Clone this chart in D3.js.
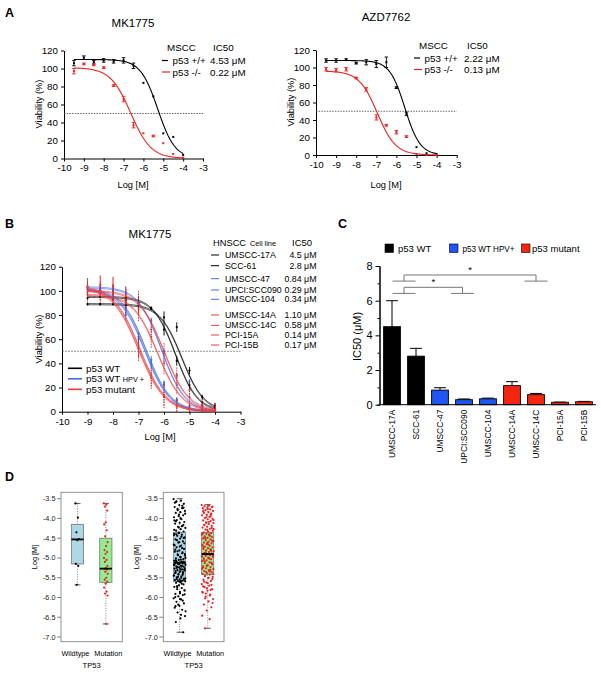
<!DOCTYPE html>
<html><head><meta charset="utf-8">
<script src="https://cdn.jsdelivr.net/npm/d3@7"></script>
<style>body{margin:0;background:#fff}</style>
</head><body><svg id="fig" width="601" height="674"></svg>
<script>
// ---------------- DATA ----------------
// Panel A
const logConcA = [-9.5,-9,-8.5,-8,-7.5,-7,-6.5,-6,-5.5,-5,-4.5,-4];
const mkWT    = [106,112,107,109,108,109,103,84,69,28,24,4];
const mkWTerr = [3,2,2,2,2,3,3,0,0,0,0,0];
const mkKO    = [97,105,104,101,81,66,37,28,25,17,5,1];
const mkKOerr = [3,1,1,1,1,3,3,0,1,0,0,0];
const azWT    = [108,108,109,105,106,104,106,77,47,9,2,1];
const azWTerr = [2,2,1,1,3,4,6,1,2,0,0,0];
const azKO    = [98,97,98,88,75,43,34,26,21,1,0,0];
const azKOerr = [2,2,2,1,2,3,1,2,1,0,0,0];
// fit params [top, bottom, logIC50, hill]
const mkWTfit = [110,0,-5.28,1.0];
const mkKOfit = [101,0,-6.64,0.85];
const azWTfit = [108,0,-5.58,1.15];
const azKOfit = [96,0,-6.95,0.95];
const mkIC50 = ['4.53 μM','0.22 μM'];
const azIC50 = ['2.22 μM','0.13 μM'];
const mscc = ['p53 +/+','p53 -/-'];
const xTicksDose = [-10,-9,-8,-7,-6,-5,-4,-3];
const yTicksVia = [0,20,40,60,80,100,120];

// Panel B
const logConcB = [-9,-8.5,-8,-7.5,-7,-6.5,-6,-5.5,-5,-4.5,-4];
const cellLines = ['UMSCC-17A','SCC-61','UMSCC-47','UPCI:SCC090','UMSCC-104','UMSCC-14A','UMSCC-14C','PCI-15A','PCI-15B'];
const lineGroup = ['wt','wt','hpv','hpv','hpv','mut','mut','mut','mut'];
const ic50Label = ['4.5 μM','2.8 μM','0.84 μM','0.29 μM','0.34 μM','1.10 μM','0.58 μM','0.14 μM','0.17 μM'];
const topB  = [89,95,103,102,101,100,97,104,103];
const logB  = [-5.3,-5.55,-6.1,-6.7,-6.75,-6.0,-6.25,-6.95,-7.0];
const hillB = [1,1,0.95,0.9,0.9,0.9,0.9,0.85,0.85];
const meansB = [
  [89,89,89,88,88,86,78,70,34,12,5],
  [94,95,93,92,90,85,68,42,22,5,2],
  [103,102,101,98,90,75,50,30,25,8,2],
  [102,101,100,85,62,43,24,10,5,2,1],
  [101,100,99,80,60,40,22,9,4,2,1],
  [99,100,98,95,90,68,48,30,18,6,3],
  [97,98,97,93,85,62,40,22,12,4,2],
  [104,105,104,93,52,28,12,4,2,1,1],
  [103,104,103,90,55,30,14,5,3,1,1]
];
const errWT  = [1,1,1,2,6,1,5,4,3,2,2];
const errHPV = [2,2,2,5,4,3,2,2,2,1,1];
const errMUT = [7,8,8,9,10,9,9,7,6,5,5];

// Panel C
const ic50Mean = [4.5,2.8,0.84,0.29,0.34,1.10,0.58,0.14,0.17];
const ic50Err  = [1.5,0.45,0.14,0.04,0.04,0.23,0.07,0.01,0.02];
const legendC = ['p53 WT','p53 WT HPV+','p53 mutant'];
const yTicksC = [0,2,4,6,8];

// Panel D
const dTicks = [-3.5,-4.0,-4.5,-5.0,-5.5,-6.0,-6.5,-7.0];
const groupsD = ['Wildtype','Mutation'];
// box stats [lowWhisker, q1, median, q3, highWhisker]
const boxL = [[-5.68,-5.15,-4.53,-4.15,-3.62],[-6.67,-5.62,-5.27,-4.5,-3.62]];
const boxR = [[-6.88,-5.6,-5.12,-4.35,-3.5],[-6.78,-5.42,-4.9,-4.35,-3.65]];
const ptsLwt = [-3.62,-3.98,-4.35,-4.52,-4.55,-5.15,-5.2,-5.68];
const ptsLmut = [-3.62,-3.65,-3.7,-3.8,-4.1,-4.15,-4.3,-4.45,-4.6,-4.7,-4.8,-4.85,-4.9,-5.0,-5.05,-5.1,-5.2,-5.25,-5.28,-5.3,-5.35,-5.4,-5.5,-5.55,-5.6,-5.65,-5.75,-5.85,-5.9,-5.95,-6.67];
const ptsRwt = [-3.51,-3.55,-3.57,-3.63,-3.66,-3.71,-3.74,-3.76,-3.81,-3.84,-3.86,-3.92,-3.94,-3.97,-4.02,-4.04,-4.09,-4.11,-4.13,-4.19,-4.21,-4.24,-4.27,-4.31,-4.33,
 -4.37,-4.39,-4.41,-4.44,-4.48,-4.51,-4.53,-4.58,-4.61,-4.66,-4.69,-4.73,-4.77,-4.81,-4.84,-4.88,-4.91,-4.94,-4.98,-5.01,-5.03,-5.05,-5.07,-5.09,-5.11,-5.12,-5.12,-5.13,
 -5.14,-5.15,-5.17,-5.19,-5.21,-5.22,-5.24,-5.27,-5.29,-5.31,-5.32,-5.34,-5.37,-5.39,-5.42,-5.44,-5.47,-5.49,-5.52,-5.54,-5.56,-5.57,-5.58,-5.59,-5.61,
 -5.63,-5.67,-5.69,-5.73,-5.76,-5.79,-5.83,-5.86,-5.91,-5.94,-5.97,-6.02,-6.05,-6.11,-6.15,-6.21,-6.26,-6.31,-6.38,-6.47,-6.53,-6.62,-6.88,
 -4.36,-4.42,-4.46,-4.55,-4.63,-4.71,-4.79,-4.86,-4.93,-5.0,-5.04,-5.08,-5.1,-5.16,-5.18,-5.2,-5.23,-5.26,-5.28,-5.33,-5.36,-5.41,-5.45,-5.5,-5.53,-5.55,-5.6,
 -3.6,-3.68,-3.79,-3.88,-3.99,-4.07,-4.16,-4.23,-4.29,-5.65,-5.71,-5.81,-5.89,-5.99,-6.08,-6.18,-6.35,-6.44,
 -4.4,-4.5,-4.6,-4.68,-4.75,-4.83,-4.9,-4.97,-5.06,-5.11,-5.14,-5.17,-5.22,-5.25,-5.3,-5.35,-5.38,-5.43,-5.48,-5.52,-5.58,-3.58,-3.73,-3.9,-4.05,-4.2,-5.74,-5.92,-6.04,-6.22];
const ptsRmut = [-3.66,-3.67,-3.69,-3.71,-3.73,-3.74,-3.77,-3.79,-3.81,-3.84,-3.86,-3.88,-3.91,-3.92,-3.96,-3.99,-4.01,-4.02,-4.05,-4.07,-4.1,-4.12,-4.14,-4.17,-4.19,-4.21,-4.23,-4.26,-4.28,-4.31,-4.33,
 -4.36,-4.37,-4.39,-4.41,-4.43,-4.45,-4.47,-4.49,-4.51,-4.53,-4.55,-4.57,-4.59,-4.61,-4.63,-4.65,-4.67,-4.69,-4.71,-4.73,-4.75,-4.77,-4.79,-4.81,-4.83,-4.85,-4.87,-4.89,-4.9,
 -4.91,-4.93,-4.95,-4.97,-4.99,-5.01,-5.03,-5.06,-5.08,-5.11,-5.13,-5.16,-5.18,-5.21,-5.23,-5.26,-5.28,-5.31,-5.33,-5.36,-5.38,-5.4,-5.42,
 -5.45,-5.48,-5.51,-5.55,-5.58,-5.62,-5.66,-5.7,-5.74,-5.79,-5.83,-5.88,-5.93,-5.98,-6.04,-6.1,-6.18,-6.25,-6.33,-6.46,-6.55,-6.78,
 -3.7,-3.76,-3.83,-3.9,-3.97,-4.04,-4.09,-4.16,-4.24,-4.29,-4.38,-4.44,-4.5,-4.58,-4.66,-4.74,-4.82,-4.92,-4.96,-5.02,-5.09,-5.14,-5.19,-5.24,-5.3,-5.35,-5.41,-5.5,-5.6,-5.68,-5.77,-5.86,-5.95,-6.02,-6.14,
 -3.68,-3.8,-3.94,-4.11,-4.27,-4.4,-4.48,-4.56,-4.62,-4.7,-4.78,-4.86,-4.94,-5.0,-5.05,-5.12,-5.2,-5.27,-5.34,-5.46,-5.53,-5.64,-5.72,-5.81,-5.9];

// ---------------- DRAWING ----------------
const F = '"Liberation Sans", Arial, Helvetica, sans-serif';
const svg = d3.select('#fig').attr('font-family', F);
const RED = '#f41f1f', BLACK = '#000';
const COL = {wt:'#000', hpv:'#3f6ee8', mut:'#ef3b3b'};
const BAR = {wt:'#000', hpv:'#1f55f2', mut:'#f5260f'};
const fourPL = (x, p) => p[1] + (p[0]-p[1])/(1+Math.pow(10,(x-p[2])*p[3]));

function txt(g, x, y, s, size, opt={}) {
  const t = g.append('text').attr('x',x).attr('y',y).attr('font-size',size).attr('fill',opt.fill||'#000').text(s);
  if (opt.anchor) t.attr('text-anchor',opt.anchor);
  if (opt.weight) t.attr('font-weight',opt.weight);
  if (opt.rotate) t.attr('transform',`rotate(${opt.rotate},${x},${y})`);
  if (opt.len) t.attr('textLength',opt.len).attr('lengthAdjust','spacingAndGlyphs');
  return t;
}
function styleAxis(a, size) {
  a.attr('font-family',F).attr('font-size',size);
  a.selectAll('path,line').attr('stroke','#000');
}

// panel letters
txt(svg, 5, 17, 'A', 12.5, {weight:'bold'});
txt(svg, 5, 228, 'B', 12.5, {weight:'bold'});
txt(svg, 338, 228, 'C', 12.5, {weight:'bold'});
txt(svg, 5, 481, 'D', 12.5, {weight:'bold'});

function dosePanel(c) {
  const g = svg.append('g');
  const x = d3.scaleLinear().domain([-10,-3]).range(c.xr);
  const y = d3.scaleLinear().domain([0,120]).range(c.yr);
  styleAxis(g.append('g').attr('transform',`translate(0,${y(0)})`)
    .call(d3.axisBottom(x).tickValues(xTicksDose).tickSize(3).tickSizeOuter(0).tickFormat(d=>String(d))), 9.8);
  styleAxis(g.append('g').attr('transform',`translate(${x(-10)},0)`)
    .call(d3.axisLeft(y).tickValues(yTicksVia).tickSize(3).tickSizeOuter(0)), 9.8);
  g.append('line').attr('x1',x(-10)).attr('x2',x(-3)).attr('y1',y(50)).attr('y2',y(50))
    .attr('stroke','#444').attr('stroke-width',0.8).attr('stroke-dasharray','1.5,1.2');
  txt(g, c.title[0], c.title[1], c.titleText, 11.5, {anchor:'middle'});
  txt(g, c.ylab[0], c.ylab[1], 'Viability (%)', 9.3, {anchor:'middle', rotate:-90});
  txt(g, c.xlab[0], c.xlab[1], 'Log [M]', 9.3, {anchor:'middle'});
  const xs = d3.range(-9.5,-3.999,0.05);
  c.series.forEach(s => {
    g.append('path').datum(xs).attr('fill','none').attr('stroke',s.col).attr('stroke-width',1.1)
      .attr('d', d3.line().x(d=>x(d)).y(d=>y(fourPL(d,s.fit))));
    logConcA.forEach((lc,i) => {
      const v = s.vals[i], e = s.err[i];
      if (e > 0) {
        g.append('line').attr('x1',x(lc)).attr('x2',x(lc)).attr('y1',y(v-e)).attr('y2',y(v+e)).attr('stroke',s.col).attr('stroke-width',0.9);
        [v-e, v+e].forEach(w => g.append('line').attr('x1',x(lc)-1.8).attr('x2',x(lc)+1.8).attr('y1',y(w)).attr('y2',y(w)).attr('stroke',s.col).attr('stroke-width',0.9));
      }
      g.append('rect').attr('x',x(lc)-1).attr('y',y(v)-1).attr('width',2).attr('height',2).attr('fill',s.col);
    });
  });
  // legend
  txt(g, c.leg[0], c.leg[1], 'MSCC', 9.8);
  txt(g, c.leg[2], c.leg[1], 'IC50', 9.8);
  c.series.forEach((s,i) => {
    const yy = c.leg[1] + 13 + i*11.5;
    g.append('line').attr('x1',c.leg[0]-5).attr('x2',c.leg[0]+ (i? 3:1)).attr('y1',yy-3.5).attr('y2',yy-3.5).attr('stroke',s.col).attr('stroke-width',1.2);
    txt(g, c.leg[0]+5.5, yy, mscc[i], 9.8);
    txt(g, c.leg[2]-3, yy, s.ic, 9.8);
  });
}
dosePanel({xr:[64,203], yr:[158.5,50.5], title:[133,26.5], titleText:'MK1775', ylab:[42,104], xlab:[133,187.5], leg:[167,51,213],
  series:[{vals:mkWT,err:mkWTerr,fit:mkWTfit,col:BLACK,ic:mkIC50[0]},{vals:mkKO,err:mkKOerr,fit:mkKOfit,col:RED,ic:mkIC50[1]}]});
dosePanel({xr:[316,456.7], yr:[155,50], title:[386,21], titleText:'AZD7762', ylab:[294,102], xlab:[386,187.5], leg:[419,48.5,467],
  series:[{vals:azWT,err:azWTerr,fit:azWTfit,col:BLACK,ic:azIC50[0]},{vals:azKO,err:azKOerr,fit:azKOfit,col:RED,ic:azIC50[1]}]});

// ---------- Panel B ----------
(function(){
  const g = svg.append('g');
  const x = d3.scaleLinear().domain([-10,-3]).range([62,240.5]);
  const y = d3.scaleLinear().domain([0,120]).range([411.7,266.7]);
  styleAxis(g.append('g').attr('transform',`translate(0,${y(0)})`)
    .call(d3.axisBottom(x).tickValues(xTicksDose).tickSize(3).tickSizeOuter(0).tickFormat(d=>String(d))), 9.8);
  styleAxis(g.append('g').attr('transform',`translate(${x(-10)},0)`)
    .call(d3.axisLeft(y).tickValues(yTicksVia).tickSize(3).tickSizeOuter(0)), 9.8);
  g.append('line').attr('x1',x(-10)).attr('x2',x(-3)).attr('y1',y(50)).attr('y2',y(50))
    .attr('stroke','#666').attr('stroke-width',0.7).attr('stroke-dasharray','2,1');
  txt(g, 150, 237.5, 'MK1775', 11.5, {anchor:'middle'});
  txt(g, 42, 339, 'Viability (%)', 9.3, {anchor:'middle', rotate:-90});
  txt(g, 160, 440, 'Log [M]', 9.3, {anchor:'middle'});
  const errs = {wt:errWT, hpv:errHPV, mut:errMUT};
  const xs = d3.range(-9,-3.999,0.05);
  cellLines.forEach((n,k) => {
    const grp = lineGroup[k], col = COL[grp];
    logConcB.forEach((lc,i) => {
      const v = meansB[k][i], e = errs[grp][i];
      g.append('line').attr('x1',x(lc)).attr('x2',x(lc)).attr('y1',y(Math.max(0,v-e))).attr('y2',y(v+e))
        .attr('stroke', grp==='mut' ? '#e32020' : col).attr('stroke-width',0.9)
        .attr('stroke-dasharray', grp==='mut' ? '1.5,1' : null);
      g.append('circle').attr('cx',x(lc)).attr('cy',y(v)).attr('r',1.1).attr('fill',col);
    });
  });
  cellLines.forEach((n,k) => {
    const col = COL[lineGroup[k]], p = [topB[k],0,logB[k],hillB[k]];
    [-0.6,0.6].forEach(off => {
      g.append('path').datum(xs).attr('fill','none').attr('stroke',col).attr('stroke-width',0.75).attr('opacity',0.9)
        .attr('d', d3.line().x(d=>x(d)).y(d=>y(fourPL(d,p))+off));
    });
  });
  // right legend
  txt(g, 213, 245.7, 'HNSCC', 9.3);
  txt(g, 250, 245.7, 'Cell line', 7.3);
  txt(g, 292, 245.7, 'IC50', 9.5);
  const rowY = [258,268.7,281.7,293,302.3,318,328.3,338,348];
  cellLines.forEach((n,k) => {
    const col = COL[lineGroup[k]];
    g.append('line').attr('x1',211).attr('x2',219).attr('y1',rowY[k]-3).attr('y2',rowY[k]-3).attr('stroke',col).attr('stroke-width',1);
    txt(g, 225, rowY[k], n, 8.8);
    txt(g, 316.5, rowY[k], ic50Label[k], 8.8, {anchor:'end'});
  });
  // bottom-left legend
  const lg = [['p53 WT','', 'wt'],['p53 WT ','HPV +','hpv'],['p53 mutant','','mut']];
  lg.forEach((d,i) => {
    const yy = 371.5 + i*10.5;
    g.append('line').attr('x1',68).attr('x2',82).attr('y1',yy-3.2).attr('y2',yy-3.2).attr('stroke',COL[d[2]]).attr('stroke-width',1.6);
    const t = txt(g, 86, yy, d[0], 9.8);
    if (d[1]) t.append('tspan').attr('font-size',7.3).text(d[1]);
  });
})();

// ---------- Panel C ----------
(function(){
  const g = svg.append('g');
  const x = d3.scaleBand().domain(cellLines).range([380,596]).paddingInner(0.3).paddingOuter(0.15);
  const y = d3.scaleLinear().domain([0,8]).range([404.7,266]);
  const bw = x.bandwidth();
  cellLines.forEach((n,k) => {
    const cx = x(n)+bw/2, v = ic50Mean[k], e = ic50Err[k];
    g.append('line').attr('x1',cx).attr('x2',cx).attr('y1',y(v)).attr('y2',y(v+e)).attr('stroke','#000').attr('stroke-width',1);
    g.append('line').attr('x1',cx-bw*0.35).attr('x2',cx+bw*0.35).attr('y1',y(v+e)).attr('y2',y(v+e)).attr('stroke','#000').attr('stroke-width',1);
    g.append('rect').attr('x',x(n)).attr('y',y(v)).attr('width',bw).attr('height',y(0)-y(v))
      .attr('fill',BAR[lineGroup[k]]).attr('stroke','#000').attr('stroke-width',0.9);
  });
  const ya = g.append('g').attr('transform','translate(379.5,0)')
    .call(d3.axisLeft(y).tickValues(yTicksC).tickSize(4).tickSizeOuter(0));
  styleAxis(ya, 11);
  g.append('g').attr('transform','translate(379.5,0)').call(d3.axisLeft(y).tickValues([1,3,5,7]).tickSize(2).tickFormat(''))
    .selectAll('path,line').attr('stroke','#000');
  g.append('line').attr('x1',379.5).attr('x2',596).attr('y1',y(0)).attr('y2',y(0)).attr('stroke','#000');
  cellLines.forEach(n => {
    const cx = x(n)+bw/2;
    g.append('text').attr('transform',`translate(${cx+3},${y(0)+5}) rotate(-90)`).attr('text-anchor','end')
      .attr('font-size',8.4).text(n);
  });
  txt(g, 361, 336.5, 'IC50 (μM)', 11, {anchor:'middle', rotate:-90});
  // legend
  const lx = [385,449.5,521.5], tx = [398,462.5,532];
  ['wt','hpv','mut'].forEach((grp,i) => {
    g.append('rect').attr('x',lx[i]).attr('y',244).attr('width',8.5).attr('height',8.5).attr('fill',BAR[grp]).attr('stroke','#000').attr('stroke-width',0.6);
    txt(g, tx[i], 252, legendC[i], 9.5, i===1 ? {len:52} : {});
  });
  // significance brackets
  const cx = i => x(cellLines[i]) + bw/2;
  const brackets = [{l:404, r:cx(6), top:7.48, low:7.13}, {l:404, r:cx(3)-1.5, top:6.77, low:6.42}];
  brackets.forEach(b => {
    const s = '#777';
    g.append('path').attr('fill','none').attr('stroke',s).attr('stroke-width',1)
      .attr('d',`M${b.l},${y(b.low)}V${y(b.top)}H${b.r}V${y(b.low)}`);
    g.append('line').attr('x1',b.l-11.5).attr('x2',b.l+11.5).attr('y1',y(b.low)).attr('y2',y(b.low)).attr('stroke',s);
    g.append('line').attr('x1',b.r-11.5).attr('x2',b.r+11.5).attr('y1',y(b.low)).attr('y2',y(b.low)).attr('stroke',s);
    txt(g, (b.l+b.r)/2, y(b.top)-2, '*', 9.5, {anchor:'middle'});
  });
})();

// ---------- Panel D ----------
const jit = i => ((i*0.618034) % 1) - 0.5;
function boxPanel(x0, x1, stats, ptsW, ptsM, jw, labX) {
  const g = svg.append('g');
  const y = d3.scaleLinear().domain([-3.5,-7]).range([498.7,637]);
  const x = d3.scaleLinear().domain([0.42,2.58]).range([x0,x1]);
  const fills = ['#add8e6','#90ee90'];
  const bwid = x(1.43)-x(1);
  stats.forEach((s,i) => {
    const cx = x(i+1);
    g.append('line').attr('x1',cx).attr('x2',cx).attr('y1',y(s[0])).attr('y2',y(s[1])).attr('stroke','#555').attr('stroke-width',0.7).attr('stroke-dasharray','1,1.5');
    g.append('line').attr('x1',cx).attr('x2',cx).attr('y1',y(s[3])).attr('y2',y(s[4])).attr('stroke','#555').attr('stroke-width',0.7).attr('stroke-dasharray','1,1.5');
    [s[0],s[4]].forEach(w => g.append('line').attr('x1',cx-bwid*0.25).attr('x2',cx+bwid*0.25).attr('y1',y(w)).attr('y2',y(w)).attr('stroke','#333').attr('stroke-width',0.8));
    g.append('rect').attr('x',cx-bwid/2).attr('y',y(s[3])).attr('width',bwid).attr('height',y(s[1])-y(s[3]))
      .attr('fill',fills[i]).attr('stroke','#777').attr('stroke-width',0.8);
  });
  [[ptsW,'#000'],[ptsM,'#f02020']].forEach((pp,i) => {
    const cx = x(i+1);
    pp[0].forEach((v,j) => g.append('circle').attr('cx',cx + jit(j)*jw).attr('cy',y(v)).attr('r',1.1).attr('fill',pp[1]));
  });
  stats.forEach((s,i) => {
    const cx = x(i+1);
    g.append('line').attr('x1',cx-bwid/2).attr('x2',cx+bwid/2).attr('y1',y(s[2])).attr('y2',y(s[2])).attr('stroke','#000').attr('stroke-width',1.8);
  });
  g.append('rect').attr('x',x0).attr('y',492.3).attr('width',x1-x0).attr('height',149.4).attr('fill','none').attr('stroke','#888').attr('stroke-width',0.9);
  dTicks.forEach(t => {
    g.append('line').attr('x1',x0-4).attr('x2',x0).attr('y1',y(t)).attr('y2',y(t)).attr('stroke','#666').attr('stroke-width',0.8);
    txt(g, x0-5.5, y(t)+2.5, t.toFixed(1), 7.3, {anchor:'end', fill:'#222'});
  });
  txt(g, labX, 557, 'Log [M]', 7.3, {anchor:'middle', rotate:-90});
  const off = [-2, 2.5];
  groupsD.forEach((n,i) => txt(g, x(i+1)+off[i], 655.5, n, 7.3, {anchor:'middle'}));
  txt(g, (x0+x1)/2, 668, 'TP53', 7.6, {anchor:'middle'});
}
boxPanel(61, 122.3, boxL, ptsLwt, ptsLmut, 4, 37);
boxPanel(163.3, 224, boxR, ptsRwt, ptsRmut, 12, 139);
</script></body></html>
